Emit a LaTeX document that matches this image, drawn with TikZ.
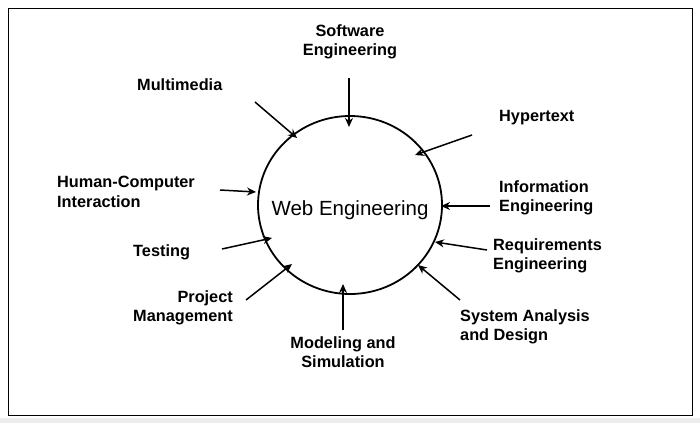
\documentclass[tikz,border=0pt]{standalone}
\usepackage{fontspec}
\setmainfont{Liberation Sans}
\usetikzlibrary{arrows.meta}
\begin{document}
\begin{tikzpicture}[x=1pt,y=-1pt,
  lbl/.style={font=\bfseries\fontsize{16.3}{19.5}\selectfont,inner sep=0pt},
  arr/.style={-{Stealth[length=9pt,width=8pt]},line width=1.5pt}]
\useasboundingbox (0,0) rectangle (700,423);
\fill[gray!15] (0,418) rectangle (700,423);
\draw[line width=0.8pt] (8,8) rectangle (692,415);
\draw[line width=1.8pt] (350,205) ellipse [x radius=92, y radius=89];
\node[font=\fontsize{20.5}{24}\selectfont] (web) at (350,210) {Web Engineering};
\node[lbl,align=center] (se) at (350,42) {Software\\Engineering};
\node[lbl,anchor=west] (mm) at (137,85) {Multimedia};
\node[lbl,anchor=west] (ht) at (499,118) {Hypertext};
\node[lbl,anchor=west,align=left] (hci) at (57,192) {Human-Computer\\Interaction};
\node[lbl,anchor=west,align=left] (ie) at (499,198) {Information\\Engineering};
\node[lbl,anchor=west] (te) at (133,252) {Testing};
\node[lbl,anchor=west,align=left] (re) at (493,256) {Requirements\\Engineering};
\node[lbl,anchor=east,align=right] (pm) at (233,308) {Project\\Management};
\node[lbl,anchor=west,align=left] (sa) at (460,327) {System Analysis\\and Design};
\node[lbl,align=center] (ms) at (343,352) {Modeling and\\Simulation};
\coordinate (a1) at (349,78); \coordinate (b1) at (349,127);
\coordinate (a2) at (255,102); \coordinate (b2) at (297,138);
\coordinate (a3) at (472,135); \coordinate (b3) at (415,155);
\coordinate (a4) at (220,190); \coordinate (b4) at (256,192);
\coordinate (a5) at (490,206); \coordinate (b5) at (441,206);
\coordinate (a6) at (222,249); \coordinate (b6) at (272,238);
\coordinate (a7) at (487,250); \coordinate (b7) at (435,242);
\coordinate (a8) at (246,300); \coordinate (b8) at (292,264);
\coordinate (a9) at (460,300); \coordinate (b9) at (418,265);
\coordinate (a10) at (343,330); \coordinate (b10) at (343,284);
\foreach \i in {1,...,10} \draw[arr] (a\i) -- (b\i);
\end{tikzpicture}
\end{document}
